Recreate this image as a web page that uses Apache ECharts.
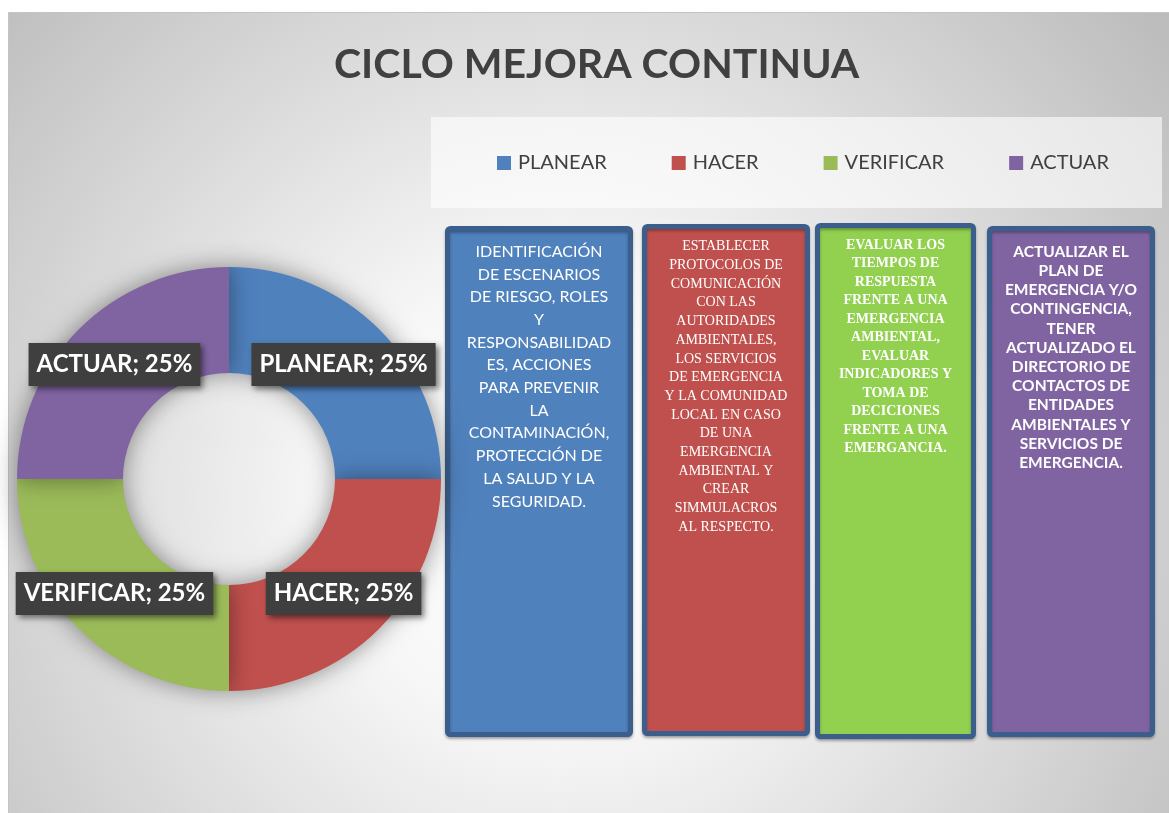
<!DOCTYPE html>
<html>
<head>
<meta charset="utf-8">
<title>CICLO MEJORA CONTINUA</title>
<script src="https://cdn.jsdelivr.net/npm/echarts@6/dist/echarts.min.js"></script>
<style>
  html, body { margin: 0; padding: 0; background: #ffffff; }
  #chart { width: 1169px; height: 813px; }
</style>
</head>
<body>
<div id="chart"></div>
<script>
// Phases of the cycle and their share of the ring
const phases = ['PLANEAR', 'HACER', 'VERIFICAR', 'ACTUAR'];
const shares = [25, 25, 25, 25];
const phaseColors = ['#4F81BD', '#C0504D', '#9BBB59', '#8064A2'];

// Description for each phase, one entry per printed line
const planearText = ['IDENTIFICACIÓN', 'DE ESCENARIOS', 'DE RIESGO, ROLES', 'Y',
  'RESPONSABILIDAD', 'ES, ACCIONES', 'PARA PREVENIR', 'LA', 'CONTAMINACIÓN,',
  'PROTECCIÓN DE', 'LA SALUD Y LA', 'SEGURIDAD.'];
const hacerText = ['ESTABLECER', 'PROTOCOLOS DE', 'COMUNICACIÓN', 'CON LAS',
  'AUTORIDADES', 'AMBIENTALES,', 'LOS SERVICIOS', 'DE EMERGENCIA',
  'Y LA COMUNIDAD', 'LOCAL EN CASO', 'DE UNA', 'EMERGENCIA', 'AMBIENTAL Y',
  'CREAR', 'SIMMULACROS', 'AL RESPECTO.'];
const verificarText = ['EVALUAR LOS', 'TIEMPOS DE', 'RESPUESTA', 'FRENTE A UNA',
  'EMERGENCIA', 'AMBIENTAL,', 'EVALUAR', 'INDICADORES Y', 'TOMA DE',
  'DECICIONES', 'FRENTE A UNA', 'EMERGANCIA.'];
const actuarText = ['ACTUALIZAR EL', 'PLAN DE', 'EMERGENCIA Y/O', 'CONTINGENCIA,',
  'TENER', 'ACTUALIZADO EL', 'DIRECTORIO DE', 'CONTACTOS DE', 'ENTIDADES',
  'AMBIENTALES Y', 'SERVICIOS DE', 'EMERGENCIA.'];

const chart = echarts.init(document.getElementById('chart'));

// Layout of the four description panels
const panelBorder = '#3B5E8C';
const panels = [
  { lines: planearText, fill: '#4F81BD', x: 447.5, y: 228.5, w: 183, h: 506,
    textY: 240.3, lh: 22.7, font: 'Lato', size: 16, weight: 'normal' },
  { lines: hacerText, fill: '#C0504D', x: 644.5, y: 226.5, w: 163, h: 507,
    textY: 237.3, lh: 18.7, font: '"Liberation Serif"', size: 14, weight: 'normal' },
  { lines: verificarText, fill: '#92D050', x: 817.5, y: 225.5, w: 156, h: 511,
    textY: 235.8, lh: 18.5, font: '"Liberation Serif"', size: 14, weight: 'bold' },
  { lines: actuarText, fill: '#8064A2', x: 989.5, y: 228.5, w: 163, h: 506,
    textY: 242.1, lh: 19.2, font: 'Lato', size: 15.5, weight: 'bold' }
];

const graphics = [
  // chart area with radial shading
  {
    type: 'rect', z: -10, silent: true,
    shape: { x: 8.5, y: 12.5, width: 1170, height: 810 },
    style: {
      fill: new echarts.graphic.RadialGradient(560, 500, 760, [
        { offset: 0, color: '#ffffff' },
        { offset: 0.3, color: '#f7f7f7' },
        { offset: 1, color: '#bdbdbd' }
      ], true),
      stroke: '#c4c4c4', lineWidth: 1
    }
  },
  // legend strip
  {
    type: 'rect', z: -5, silent: true,
    shape: { x: 431, y: 117, width: 731, height: 91 },
    style: { fill: 'rgba(255,255,255,0.6)' }
  }
];

panels.forEach(p => {
  graphics.push({
    type: 'rect', z: 1, silent: true,
    shape: { x: p.x, y: p.y, width: p.w, height: p.h, r: 3 },
    style: {
      fill: p.fill, stroke: panelBorder, lineWidth: 5,
      shadowBlur: 3, shadowOffsetY: 2, shadowColor: 'rgba(0,0,0,0.3)'
    }
  });
  graphics.push({
    type: 'text', z: 2, silent: true,
    style: {
      text: p.lines.join('\n'),
      x: p.x + p.w / 2, y: p.textY,
      align: 'center', verticalAlign: 'top',
      lineHeight: p.lh,
      fontSize: p.size, fontFamily: p.font, fontWeight: p.weight,
      fill: '#ffffff'
    }
  });
});

chart.setOption({
  backgroundColor: '#ffffff',
  animation: false,
  color: phaseColors,
  title: {
    text: 'CICLO MEJORA CONTINUA',
    left: 329,
    top: 39,
    textStyle: {
      fontFamily: 'Lato', fontWeight: 'bold', fontSize: 41, color: '#404040'
    }
  },
  legend: {
    data: phases,
    left: 497,
    top: 153,
    icon: 'rect',
    itemWidth: 14,
    itemHeight: 14,
    itemGap: 65,
    padding: 0,
    textStyle: { fontFamily: 'Lato', fontSize: 20, color: '#404040', padding: [0, 0, 0, 2] }
  },
  graphic: graphics,
  series: [{
    type: 'pie',
    center: [229, 479],
    radius: [106, 212],
    startAngle: 90,
    clockwise: true,
    avoidLabelOverlap: false,
    silent: true,
    itemStyle: {
      shadowBlur: 24,
      shadowColor: 'rgba(0,0,0,0.42)'
    },
    label: {
      show: true,
      position: 'inside',
      formatter: '{b}; {d}%',
      fontFamily: 'Lato',
      fontWeight: 'bold',
      fontSize: 24,
      color: '#ffffff',
      backgroundColor: '#3f3f3f',
      padding: [10, 8, 9, 8],
      shadowBlur: 6,
      shadowOffsetX: 3,
      shadowOffsetY: 3,
      shadowColor: 'rgba(0,0,0,0.5)'
    },
    labelLine: { show: false },
    data: phases.map((name, i) => ({ name: name, value: shares[i] }))
  }]
});
</script>
</body>
</html>
